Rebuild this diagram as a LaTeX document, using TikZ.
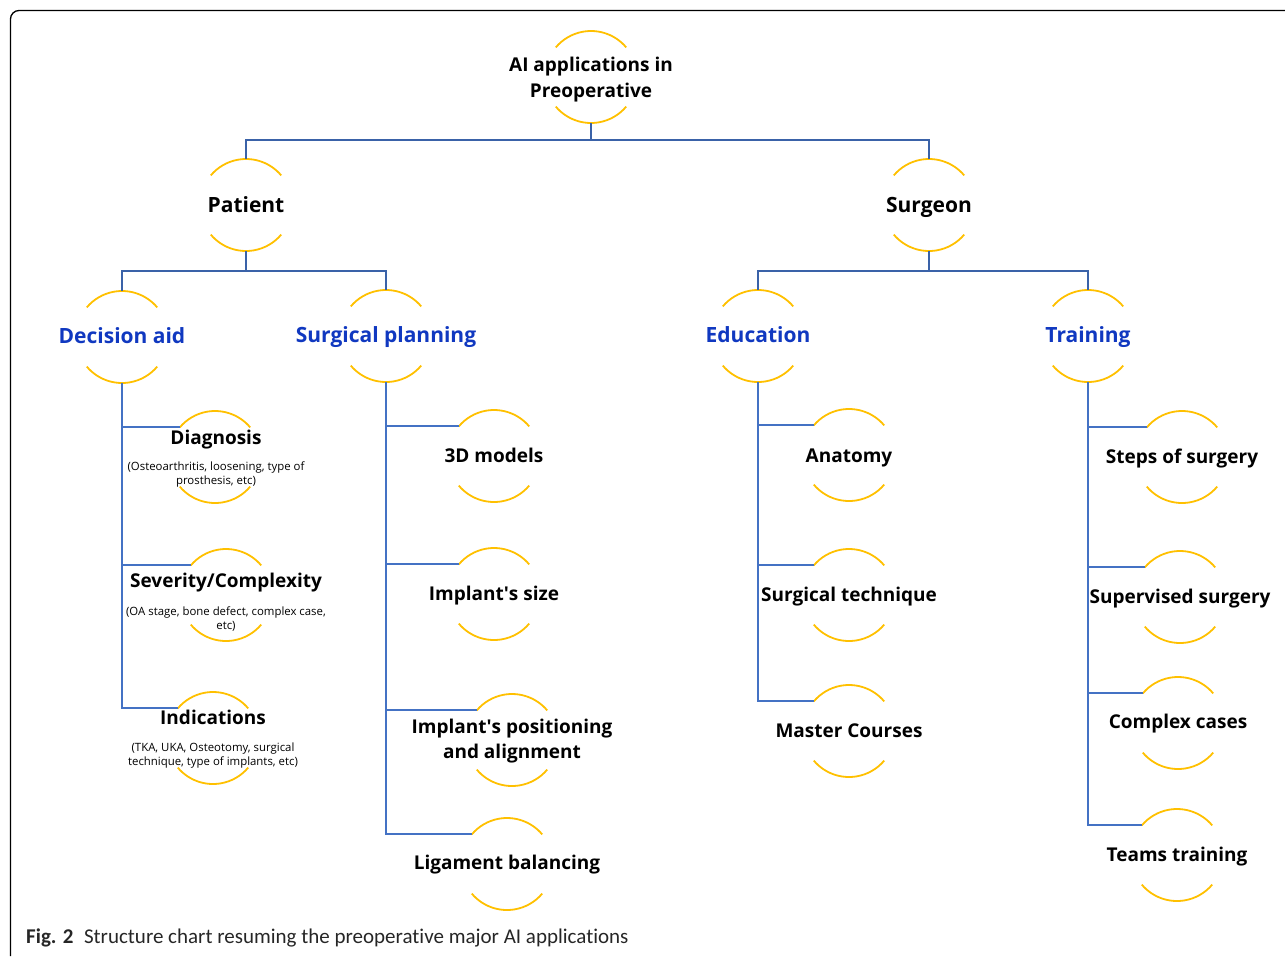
\documentclass[tikz,border=0pt]{standalone}
\usepackage{fontspec}
\setmainfont{Open Sans}
\newfontfamily\capfont[Ligatures=NoCommon]{Carlito}
\definecolor{ringyellow}{HTML}{FFC000}
\definecolor{linkblue}{HTML}{4472C4}
\definecolor{darkblue}{HTML}{3A62A8}
\definecolor{catblue}{HTML}{1038C0}
\begin{document}
\begin{tikzpicture}[x=1pt,y=1pt,
  ring/.style={circle,minimum size=92pt,inner sep=0pt,outer sep=0pt},
  arcline/.style={draw=ringyellow,line width=1.8pt},
  link/.style={draw=linkblue,line width=2pt},
  toplink/.style={draw=darkblue,line width=2.2pt},
  mainlbl/.style={font=\bfseries\fontsize{19}{26}\selectfont,align=center,inner sep=0pt},
  toplbl/.style={font=\bfseries\fontsize{21}{26}\selectfont,inner sep=0pt,anchor=base},
  catlbl/.style={font=\bfseries\fontsize{21}{26}\selectfont,text=catblue,inner sep=0pt,anchor=base},
  leaflbl/.style={font=\bfseries\fontsize{19}{25}\selectfont,inner sep=0pt,anchor=base},
  leafml/.style={font=\bfseries\fontsize{19}{25}\selectfont,align=center,inner sep=0pt},
  sublbl/.style={font=\fontsize{11.4}{14}\selectfont,align=center,inner sep=0pt},
]
\useasboundingbox (0,0) rectangle (1285,-956);
% frame
\draw[line width=1.3pt] (1285,-10.5) -- (19,-10.5) arc[start angle=90,end angle=180,radius=8.5] -- (10.5,-956);

% rings
\node[ring] (root) at (591,-77) {};
\node[ring] (pat) at (246,-205) {};
\node[ring] (sur) at (929,-205) {};
\node[ring] (dec) at (122,-337) {};
\node[ring] (spl) at (386,-336) {};
\node[ring] (edu) at (758,-336) {};
\node[ring] (tra) at (1088,-336) {};
\node[ring] (diag) at (215,-457) {};
\node[ring] (sev) at (226,-595) {};
\node[ring] (ind) at (213,-738) {};
\node[ring] (mod) at (494,-456) {};
\node[ring] (isz) at (494,-594) {};
\node[ring] (ipa) at (512,-740) {};
\node[ring] (lig) at (507,-864) {};
\node[ring] (ana) at (849,-455) {};
\node[ring] (stq) at (849,-595) {};
\node[ring] (mas) at (849,-731) {};
\node[ring] (sos) at (1182,-457) {};
\node[ring] (sup) at (1180,-597) {};
\node[ring] (cpx) at (1178,-723) {};
\node[ring] (tea) at (1177,-855) {};

\foreach \n in {root,pat,sur,dec,spl,edu,tra,diag,sev,ind,mod,isz,ipa,lig,ana,stq,mas,sos,sup,cpx,tea}{
  \draw[arcline] (\n.40) arc[start angle=40,end angle=140,radius=46];
  \draw[arcline] (\n.220) arc[start angle=220,end angle=320,radius=46];
}

% connectors
\coordinate (j1) at (591,-140);
\coordinate (j2) at (246,-271);
\coordinate (j3) at (929,-271);
\draw[toplink] (root.south) -- (j1) -| (pat.north);
\draw[toplink] (j1) -| (sur.north);
\draw[toplink] (pat.south) -- (j2) -| (dec.north);
\draw[toplink] (j2) -| (spl.north);
\draw[toplink] (sur.south) -- (j3) -| (edu.north);
\draw[toplink] (j3) -| (tra.north);

\foreach \p/\c in {dec/diag,dec/sev,dec/ind,spl/mod,spl/isz,spl/ipa,spl/lig,edu/ana,edu/stq,edu/mas,tra/sos,tra/sup,tra/cpx,tra/tea}{
  \draw[link] (\p.south) |- (\c.140);
}

% labels
\node[mainlbl] (troot) at (591,-80) {AI applications in\\Preoperative};
\node[toplbl] (tpat) at (246,-212.5) {Patient};
\node[toplbl] (tsur) at (929,-212.5) {Surgeon};
\node[catlbl] (tdec) at (122,-343.5) {Decision aid};
\node[catlbl] (tspl) at (386,-342.5) {Surgical planning};
\node[catlbl] (tedu) at (758,-342.5) {Education};
\node[catlbl] (ttra) at (1088,-342.5) {Training};

\node[leaflbl] (tdiag) at (216,-444) {Diagnosis};
\node[sublbl] (sdiag) at (216,-475) {(Osteoarthritis, loosening, type of\\prosthesis, etc)};
\node[leaflbl] (tsev) at (226,-587) {Severity/Complexity};
\node[sublbl] (ssev) at (226,-619) {(OA stage, bone defect, complex case,\\etc)};
\node[leaflbl] (tind) at (213,-724) {Indications};
\node[sublbl] (sind) at (213,-756) {(TKA, UKA, Osteotomy, surgical\\technique, type of implants, etc)};

\node[leaflbl] (tmod) at (494,-462) {3D models};
\node[leaflbl] (tisz) at (494,-600) {Implant\textquotesingle s size};
\node[leafml] (tipa) at (512,-741.5) {Implant\textquotesingle s positioning\\and alignment};
\node[leaflbl] (tlig) at (507,-869) {Ligament balancing};

\node[leaflbl] (tana) at (849,-462) {Anatomy};
\node[leaflbl] (tstq) at (849,-601) {Surgical technique};
\node[leaflbl] (tmas) at (849,-737) {Master Courses};

\node[leaflbl] (tsos) at (1182,-463) {Steps of surgery};
\node[leaflbl] (tsup) at (1180,-603) {Supervised surgery};
\node[leaflbl] (tcpx) at (1178,-728) {Complex cases};
\node[leaflbl] (ttea) at (1177,-861) {Teams training};

% caption
\node[anchor=base west,inner sep=0pt,font=\capfont\fontsize{21}{24}\selectfont,text=black!85] (cap) at (26,-943)
  {\textbf{Fig. 2}\enspace Structure chart resuming the preoperative major AI applications};
\end{tikzpicture}
\end{document}
